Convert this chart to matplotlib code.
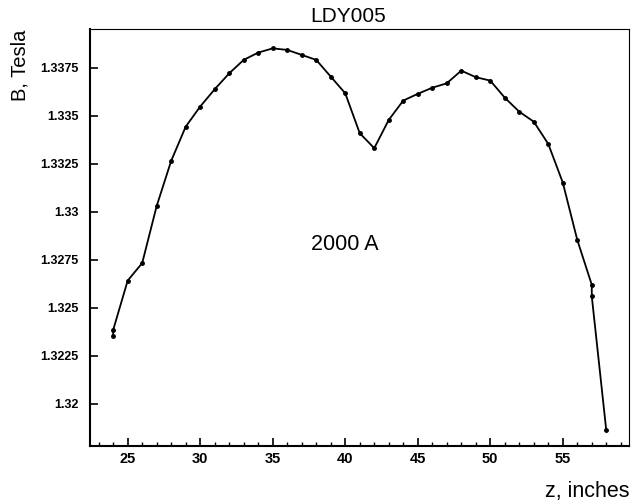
import matplotlib
matplotlib.use("Agg")
import matplotlib.pyplot as plt
from matplotlib.ticker import MultipleLocator

plt.rcParams["font.family"] = ["Liberation Sans", "DejaVu Sans"]

# field scan, z in inches, B in tesla
z = [24, 24, 25, 26, 27, 28, 29, 30, 31, 32, 33, 34, 35, 36, 37, 38, 39, 40, 41,
     42, 43, 44, 45, 46, 47, 48, 49, 50, 51, 52, 53, 54, 55, 56, 57, 57, 58]
b = [1.32354, 1.32385, 1.32642, 1.32733, 1.33031, 1.33266, 1.33444, 1.33549,
     1.33639, 1.33722, 1.33792, 1.33830, 1.33852, 1.33844, 1.33818, 1.33792,
     1.33705, 1.33618, 1.33410, 1.33332, 1.33479, 1.33580, 1.33615, 1.33647,
     1.33670, 1.33736, 1.33702, 1.33684, 1.33595, 1.33522, 1.33470, 1.33354,
     1.33153, 1.32854, 1.32620, 1.32560, 1.31861]

yticks = [1.32, 1.3225, 1.325, 1.3275, 1.33, 1.3325, 1.335, 1.3375]
ylabels = ["1.32", "1.3225", "1.325", "1.3275", "1.33", "1.3325", "1.335", "1.3375"]

fig = plt.figure(figsize=(6.31, 5.0), dpi=100)
ax = fig.add_axes([0.1426, 0.108, 0.855, 0.834])

ax.plot(z, b, color="black", lw=1.3, marker="o", ms=2.5)

ax.set_xlim(22.4, 59.6)
ax.set_ylim(1.3178, 1.33953)
ax.xaxis.set_major_locator(MultipleLocator(5))
ax.xaxis.set_minor_locator(MultipleLocator(1))
ax.set_yticks(yticks)
ax.set_yticklabels(ylabels)
ax.tick_params(direction="in", which="major", length=6, width=1.2,
               top=False, right=False)
ax.tick_params(direction="in", which="minor", length=3, width=1, top=False)
ax.tick_params(axis="x", labelsize=10.5, pad=4)
ax.tick_params(axis="y", labelsize=9, pad=8)
for lab in ax.get_xticklabels() + ax.get_yticklabels():
    lab.set_fontweight("bold")
for side in ["left", "bottom"]:
    ax.spines[side].set_linewidth(1.5)
for side in ["top", "right"]:
    ax.spines[side].set_linewidth(0.8)

# title sits a bit left of the axes centre in the original
fig.text(0.551, 0.968, "LDY005", fontsize=15, ha="center", va="center")
ax.text(40.0, 1.3283, "2000 A", fontsize=15.5, ha="center", va="center")
fig.text(0.998, 0.018, "z, inches", fontsize=15.5, ha="right", va="center")
fig.text(0.032, 0.94, "B, Tesla", fontsize=14.5, rotation=90, ha="center", va="top")

fig.savefig("out.png", dpi=100)
